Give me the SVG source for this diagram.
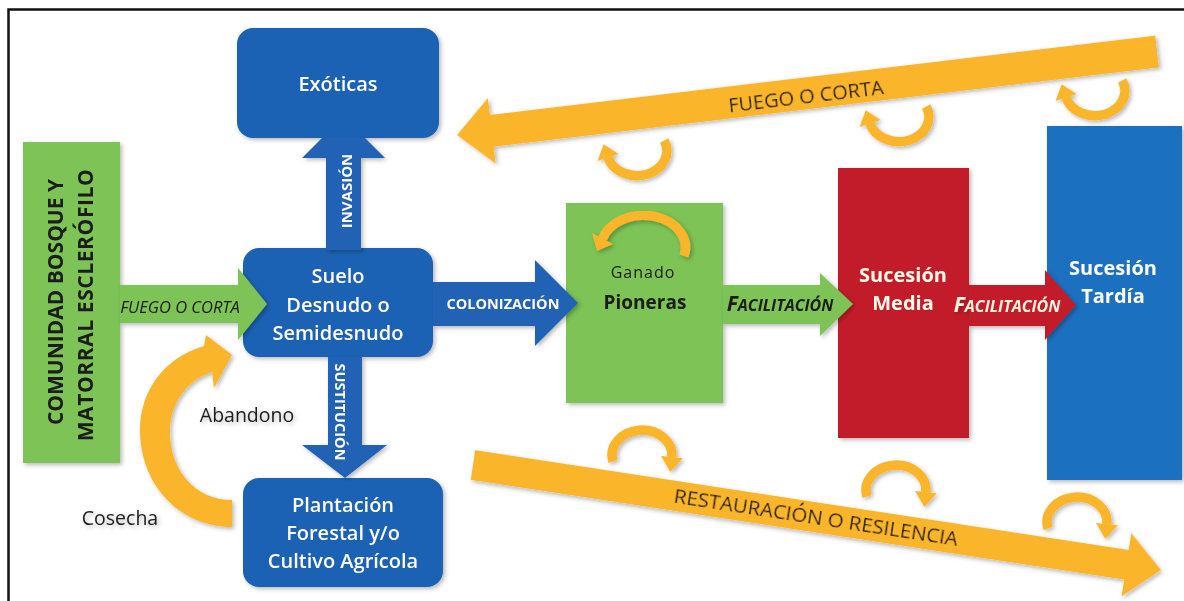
<svg xmlns="http://www.w3.org/2000/svg" width="1184" height="601" viewBox="0 0 1184 601">
<style>
  .bbox{fill:#1f62b4}
  .blue{fill:#2262b5}
  .green{fill:#7dc354}
  .red{fill:#c21f2a}
  .yel{fill:#fbb52a}
  .ystroke{fill:none;stroke:#fbb52a;stroke-width:9.5}
  .wt{font-family:"Open Sans","Liberation Sans",sans-serif;font-weight:600;font-size:20px;fill:#fffbea;text-anchor:middle}
  .wb{font-family:"Open Sans","Liberation Sans",sans-serif;font-weight:700;fill:#fffbea;text-anchor:middle}
  .dk{font-family:"Open Sans","Liberation Sans",sans-serif;fill:#1c1c1c;text-anchor:middle}
  .fac{font-family:"Open Sans","Liberation Sans",sans-serif;font-weight:700;font-style:italic;text-anchor:middle}
</style>
<defs>
  <filter id="sh" x="-10%" y="-10%" width="130%" height="130%">
    <feDropShadow dx="2" dy="2" stdDeviation="2" flood-color="#000" flood-opacity="0.28"/>
  </filter>
  <g id="uarc">
    <path class="ystroke" d="M27.2,-10.6 A30,25 0 1 1 -29,6.5"/>
    <polygon class="yel" points="-18.5,3.1 -33.3,-6.8 -39.5,9.9"/>
  </g>
  <g id="narc">
    <path class="ystroke" d="M-29,6.5 A30,25 0 1 1 29.9,2.2"/>
    <polygon class="yel" points="40.8,3.3 28.4,17 19,1.1"/>
  </g>
</defs>
<rect width="1184" height="601" fill="#ffffff"/>
<path d="M8.5,601 V9.5 H1184" fill="none" stroke="#111" stroke-width="2.5"/>

<g id="node-comunidad" filter="url(#sh)">
  <rect class="green" x="23" y="142" width="97" height="321"/>
  <text class="dk" font-weight="700" font-size="21" transform="translate(63,302) rotate(-90)">COMUNIDAD BOSQUE Y</text>
  <text class="dk" font-weight="700" font-size="21" letter-spacing="0.6" transform="translate(93,305) rotate(-90)">MATORRAL ESCLERÓFILO</text>
</g>
<g id="node-exoticas" filter="url(#sh)">
  <rect class="bbox" x="237" y="28" width="202" height="110" rx="16"/>
  <text class="wt" x="338" y="91">Exóticas</text>
</g>
<g id="node-suelo" filter="url(#sh)">
  <rect class="bbox" x="243" y="248" width="190" height="109" rx="16"/>
  <text class="wt" x="338" y="283">Suelo</text>
  <text class="wt" x="338" y="312">Desnudo o</text>
  <text class="wt" x="338" y="340">Semidesnudo</text>
</g>
<g id="node-plantacion" filter="url(#sh)">
  <rect class="bbox" x="243" y="478" width="200" height="109" rx="16"/>
  <text class="wt" x="343" y="512">Plantación</text>
  <text class="wt" x="343" y="540">Forestal y/o</text>
  <text class="wt" x="343" y="568">Cultivo Agrícola</text>
</g>
<g id="node-pioneras" filter="url(#sh)">
  <rect class="green" x="566" y="203" width="157" height="200"/>
  <text class="dk" font-size="16" letter-spacing="1" x="643" y="278">Ganado</text>
  <text class="dk" font-weight="700" font-size="19" x="645" y="309">Pioneras</text>
</g>
<g id="node-media" filter="url(#sh)">
  <rect class="red" x="838" y="168" width="131" height="270"/>
  <text class="wb" font-size="20" x="903" y="282">Sucesión</text>
  <text class="wb" font-size="20" x="903" y="310">Media</text>
</g>
<g id="node-tardia" filter="url(#sh)">
  <rect x="1047" y="126" width="135" height="354" fill="#1f6fc0"/>
  <text class="wb" font-size="20" x="1113" y="275">Sucesión</text>
  <text class="wb" font-size="20" x="1113" y="303">Tardía</text>
</g>

<g id="connectors">
  <g id="c-fuego-left" filter="url(#sh)">
    <polygon class="green" points="120,285 238,285 238,268 267,304 238,340 238,323 120,323"/>
    <text class="dk" font-style="italic" font-size="16.5" x="180" y="313">FUEGO O CORTA</text>
  </g>
  <g id="c-invasion" filter="url(#sh)">
    <polygon class="blue" points="326,250 326,158 302,158 322,138 365,138 385,158 361,158 361,250"/>
    <text class="wb" font-size="15" transform="translate(352,191) rotate(-90)">INVASIÓN</text>
  </g>
  <g id="c-sustitucion" filter="url(#sh)">
    <polygon class="blue" points="328,357 362,357 362,445 387,445 345,478 302,445 328,445"/>
    <text class="wb" font-size="14.5" transform="translate(335,412) rotate(90)">SUSTITUCIÓN</text>
  </g>
  <g id="c-colonizacion" filter="url(#sh)">
    <polygon class="blue" points="433,282 535,282 535,260 578,303 535,346 535,326 433,326"/>
    <text class="wb" font-size="14.5" x="503" y="309">COLONIZACIÓN</text>
  </g>
  <g id="c-facil-1" filter="url(#sh)">
    <polygon class="green" points="723,285 820,285 820,273 853,304 820,336 820,324 723,324"/>
    <text class="fac" fill="#1c1c1c" x="780" y="311"><tspan font-size="21">F</tspan><tspan font-size="16">ACILITACIÓN</tspan></text>
  </g>
  <g id="c-facil-2" filter="url(#sh)">
    <polygon class="red" points="969,285 1045,285 1045,270 1076,305 1045,340 1045,326 969,326"/>
    <text class="fac" fill="#fff3e0" x="1007" y="312"><tspan font-size="21">F</tspan><tspan font-size="16">ACILITACIÓN</tspan></text>
  </g>
  <g id="c-cosecha" filter="url(#sh)">
    <path class="yel" d="M232,527 C180,527 140,485 140,430 C140,392 163,358 204,346 L206,335 L232,355 L214,388 L212,372 C188,380 170,402 170,432 C170,470 195,500 232,500 Z"/>
    <text class="dk" font-size="19.5" x="247" y="422">Abandono</text>
    <text class="dk" font-size="19.5" x="120" y="525">Cosecha</text>
  </g>
  <g id="c-ganado" filter="url(#sh)">
    <path class="ystroke" d="M684,256 A42,32 0 0 0 602.5,239"/>
    <polygon class="yel" points="613,244 597,251 592,233"/>
  </g>
  <g id="c-fuego-top" filter="url(#sh)" transform="translate(457,135) rotate(-6.8)">
    <polygon class="yel" points="0,0 35,-33 35,-16 705,-16 705,16 35,16 35,33"/>
    <text class="dk" font-size="20" x="351" y="10">FUEGO O CORTA</text>
  </g>
  <g id="c-restauracion" filter="url(#sh)" transform="translate(473,465) rotate(8.68)">
    <polygon class="yel" points="0,-15 661,-15 661,-32 696,0 661,32 661,15 0,15"/>
    <text class="dk" font-size="20.5" x="347" y="7">RESTAURACIÓN O RESILENCIA</text>
  </g>
  <g id="c-cycles" filter="url(#sh)">
    <use href="#uarc" x="637" y="151"/>
    <use href="#uarc" x="899" y="117"/>
    <use href="#uarc" x="1095" y="91"/>
    <use href="#narc" x="642" y="455"/>
    <use href="#narc" x="896" y="490"/>
    <use href="#narc" x="1077" y="522"/>
  </g>
</g>
</svg>
